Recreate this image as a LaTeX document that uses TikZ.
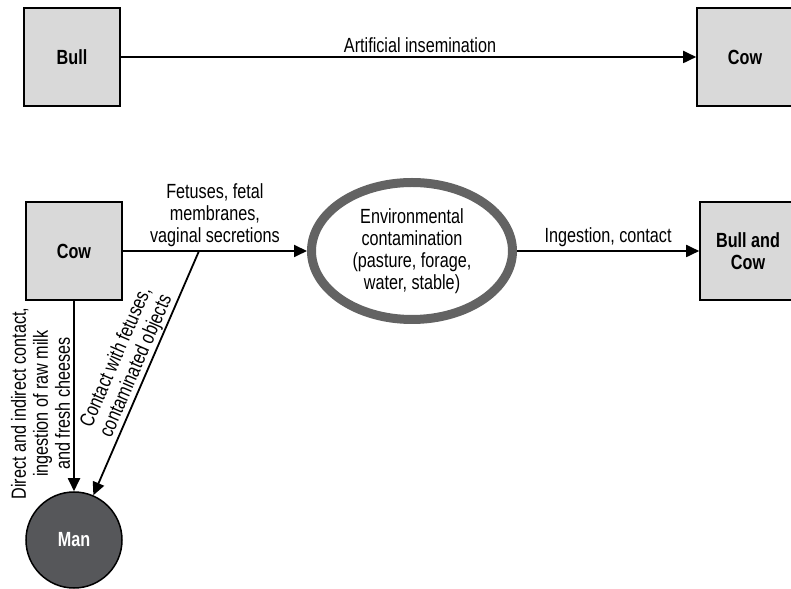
\documentclass[tikz,border=0pt]{standalone}
\usepackage{fontspec}
\setmainfont[FakeStretch=0.79]{Liberation Sans}
\usetikzlibrary{shapes.geometric,arrows.meta}
\definecolor{cajagris}{HTML}{D9D9D9}
\definecolor{elipsegris}{HTML}{636363}
\definecolor{hombregris}{HTML}{56575A}
\newcommand{\letra}{\fontsize{20.5}{22}\selectfont}
\tikzset{
  caja/.style={draw, line width=1.6pt, fill=cajagris, minimum width=96pt, minimum height=98pt, align=center, font=\letra\bfseries},
  flecha/.style={line width=1.8pt, -{Triangle[length=13pt,width=12pt]}},
  etiqueta/.style={font=\letra, align=center},
}
\begin{document}
\begin{tikzpicture}[x=1pt,y=1pt]
        \useasboundingbox (0,0) rectangle (791,588);
        % Fila superior
        \node[caja] (toro) at (72,531) {Bull};
        \node[caja] (vacaA) at (745,531) {Cow};
        \draw[flecha] (toro) -- node[etiqueta, above, pos=0.52] {Artificial insemination} (vacaA);
        % Fila inferior
        \node[caja] (vacaB) at (74,337) {Cow};
        \node[ellipse, draw=elipsegris, line width=9pt, minimum width=201pt, minimum height=137pt, inner sep=0pt, etiqueta] (entorno) at (412,337) {Environmental\\contamination\\(pasture, forage,\\water, stable)};
        \node[caja] (ambos) at (748,337) {Bull and\\Cow};
        \node[circle, draw, line width=1.5pt, fill=hombregris, minimum size=96pt, text=white, font=\letra\bfseries] (hombre) at (74,48) {Man};
        \coordinate (rama) at (199,337); % punto de bifurcacion
        % Flechas
        \draw[flecha] (vacaB) -- node[etiqueta, above] {Fetuses, fetal\\membranes,\\vaginal secretions} (entorno);
        \draw[flecha] (entorno) -- node[etiqueta, above] {Ingestion, contact} (ambos);
        \draw[flecha] (vacaB) -- node[etiqueta, rotate=90, anchor=south, pos=0.54, inner sep=3pt] {Direct and indirect contact,\\ingestion of raw milk\\and fresh cheeses} (hombre);
        \draw[flecha] (rama) -- node[etiqueta, sloped, above, pos=0.49, inner sep=1pt] {Contact with fetuses,\\contaminated objects} (hombre);
    \end{tikzpicture}
\end{document}
